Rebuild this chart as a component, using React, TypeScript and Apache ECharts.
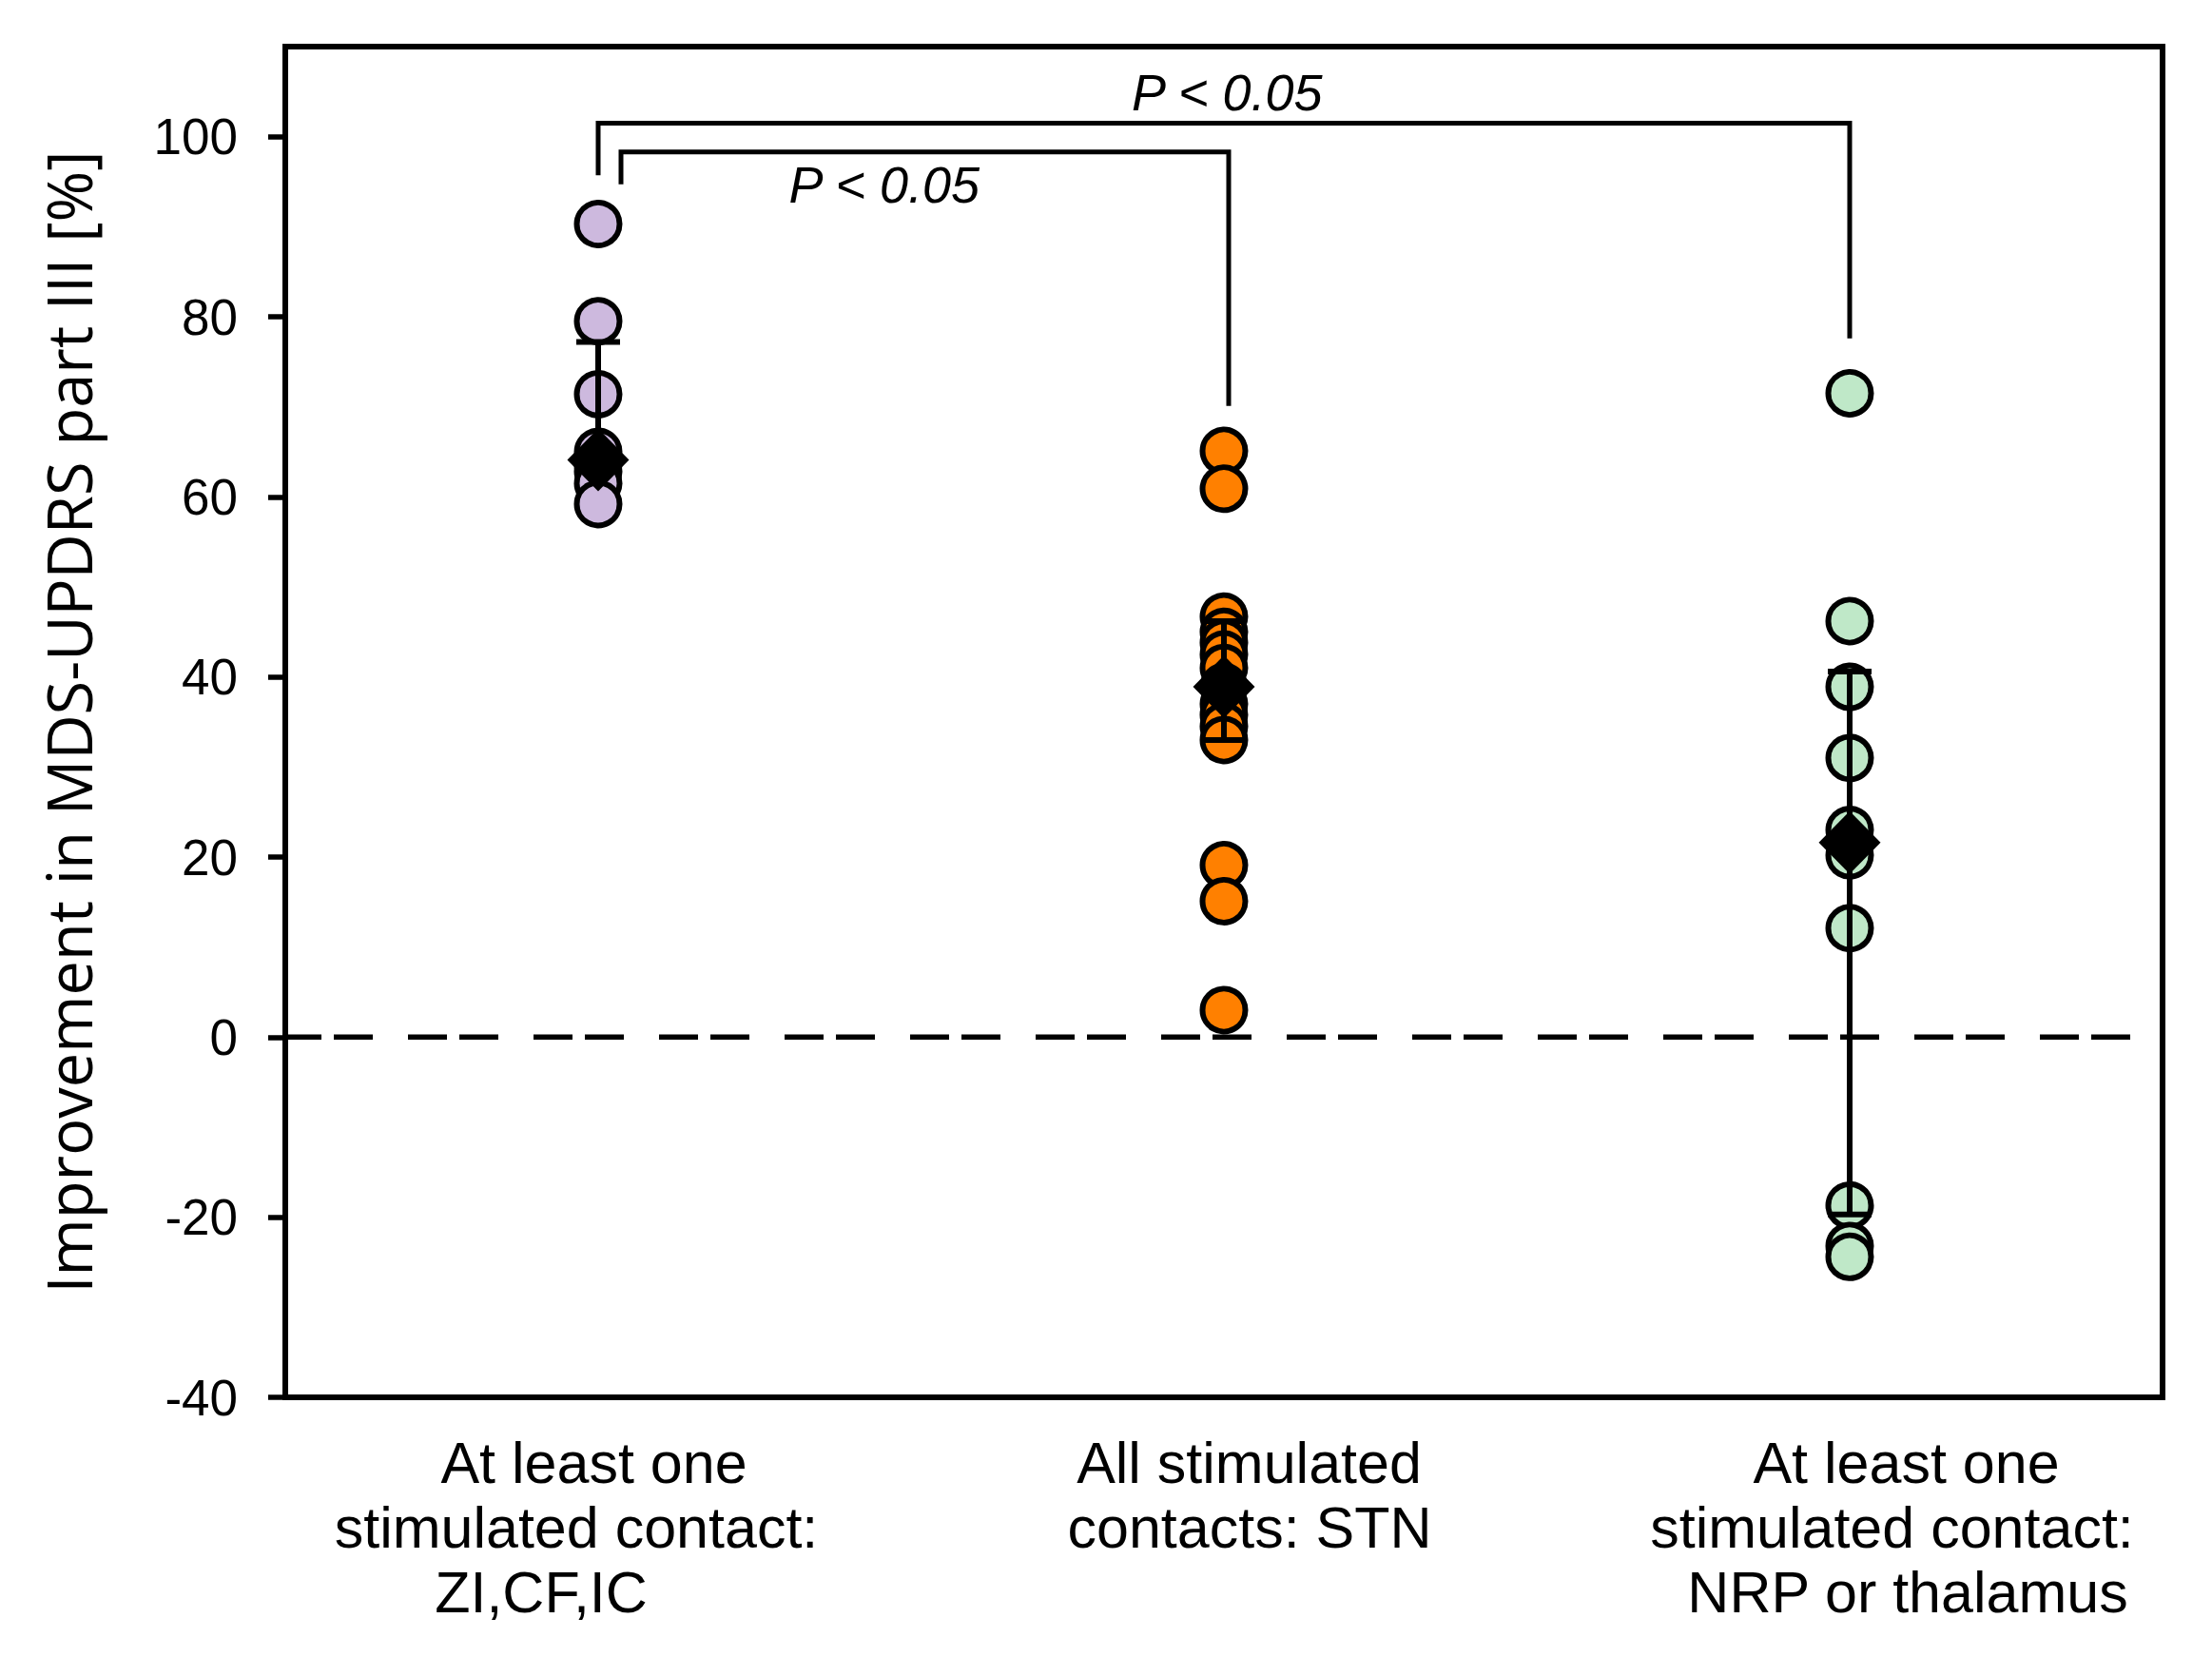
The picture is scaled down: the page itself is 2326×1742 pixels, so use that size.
import React, { useEffect, useRef } from "react";
import * as echarts from "echarts";

// ---------- data ----------
const categories = [
  ["At least one", "stimulated contact:", "ZI,CF,IC"],
  ["All stimulated", "contacts: STN"],
  ["At least one", "stimulated contact:", "NRP or thalamus"],
];
const zicficValues = [90.3, 79.5, 71.4, 65.0, 63.6, 62.8, 61.5, 59.2];
const stnValues = [65.1, 60.9, 46.7, 45.0, 43.8, 42.5, 41.0, 38.9, 37.0, 35.8, 34.5, 33.0, 19.1, 15.1, 3.0];
const nrpValues = [71.5, 46.2, 38.9, 31.0, 23.0, 20.2, 12.1, -18.7, -23.2, -24.4];
const medians = [64.1, 38.9, 21.6];
const lowerQuartile = [63.0, 33.0, -19.7];
const upperQuartile = [77.2, 46.2, 40.6];
const yTicks = [-40, -20, 0, 20, 40, 60, 80, 100];
const referenceLine = [0];

// significance brackets (category index, values)
const bracketFrom = [0, 0];
const bracketTo = [2, 1];
const bracketTop = [101.5, 98.3];
const bracketLeftEnd = [95.7, 94.7];
const bracketRightEnd = [77.6, 70.1];
const pLabels = ["P < 0.05", "P < 0.05"];
const pLabelX = [1.005, 0.457];
const pLabelY = [104.9, 94.7];

// ---------- styles ----------
const FONT = "Arial, 'Liberation Sans', sans-serif";
const TITLE_FONT = "'Open Sans', 'DejaVu Sans', sans-serif";
const colors = ["#cdb9de", "#ff8000", "#bfe8c8"];
const bracketShiftLeft = [0, 24];
const bracketShiftRight = [0, 5];
const labelPadding = [
  [[0, 9, 0, 0], [0, 46, 0, 0], [0, 120, 0, 0]],
  [[0, 0, 0, 53], [0, 0, 0, 54]],
  [[0, 0, 0, 119], [0, 0, 0, 89], [0, 0, 0, 122]],
];

export default function App() {
  const ref = useRef<HTMLDivElement>(null);

  useEffect(() => {
    if (!ref.current) return;
    const chart = echarts.init(ref.current, undefined, { renderer: "svg" });

    const rich: Record<string, any> = {};
    labelPadding.forEach((lines, ci) =>
      lines.forEach((pad, li) => {
        rich[`c${ci}l${li}`] = {
          fontFamily: FONT,
          fontSize: 61,
          lineHeight: 68,
          color: "#000",
          padding: pad,
        };
      })
    );

    const groups = [zicficValues, stnValues, nrpValues];

    const scatterSeries = groups.map((vals, gi) => ({
      type: "scatter",
      z: 2,
      symbol: "circle",
      symbolSize: 45,
      itemStyle: { color: colors[gi], borderColor: "#000", borderWidth: 6, opacity: 1 },
      emphasis: { disabled: true },
      data: vals.map((v) => [gi, v]),
    }));

    const option: any = {
      animation: false,
      backgroundColor: "#ffffff",
      grid: {
        left: 300,
        right: 52,
        top: 49,
        bottom: 273,
        show: true,
        borderColor: "#000",
        borderWidth: 6,
        containLabel: false,
        outerBoundsMode: "none",
      },
      xAxis: {
        type: "category",
        data: categories.map((c) => c.join("\n")),
        boundaryGap: true,
        axisLine: { onZero: false, lineStyle: { color: "#000", width: 6 } },
        axisTick: { alignWithLabel: true, length: 19, lineStyle: { color: "#000", width: 5.5 } },
        axisLabel: {
          interval: 0,
          margin: 35,
          formatter: (_v: string, idx: number) =>
            categories[idx].map((line, li) => `{c${idx}l${li}|${line}}`).join("\n"),
          rich,
        },
        splitLine: { show: false },
      },
      yAxis: {
        type: "value",
        min: -40,
        max: 110,
        interval: 20,
        name: "Improvement in MDS-UPDRS part III [%]",
        nameLocation: "middle",
        nameGap: 196,
        nameMoveOverlap: false,
        nameTextStyle: { fontFamily: TITLE_FONT, fontSize: 65, color: "#000" },
        axisLine: { show: true, onZero: false, lineStyle: { color: "#000", width: 6 } },
        axisTick: { show: true, length: 18, customValues: yTicks, lineStyle: { color: "#000", width: 5.5 } },
        axisLabel: {
          customValues: yTicks,
          margin: 50,
          fontFamily: FONT,
          fontSize: 53,
          color: "#000",
        },
        splitLine: { show: false },
      },
      series: [
        {
          type: "custom",
          name: "zero",
          z: 1,
          silent: true,
          data: referenceLine.map((v) => [0, v]),
          renderItem: (params: any, api: any) => {
            const cs = params.coordSys;
            const p = api.coord([0, api.value(1)]);
            return {
              type: "line",
              shape: { x1: cs.x, y1: p[1], x2: cs.x + cs.width, y2: p[1] },
              style: { stroke: "#000", lineWidth: 5.5, lineDash: [41, 13, 41, 37], lineDashOffset: 3 },
            };
          },
        },
        ...scatterSeries,
        {
          type: "custom",
          name: "iqr",
          z: 3,
          silent: true,
          data: categories.map((_, i) => [i, lowerQuartile[i], upperQuartile[i]]),
          encode: { x: 0, y: [1, 2] },
          renderItem: (_p: any, api: any) => {
            const x = api.value(0);
            const lo = api.coord([x, api.value(1)]);
            const hi = api.coord([x, api.value(2)]);
            const hw = 23;
            const st = { stroke: "#000", lineWidth: 6 };
            return {
              type: "group",
              children: [
                { type: "line", shape: { x1: lo[0], y1: lo[1], x2: hi[0], y2: hi[1] }, style: st },
                { type: "line", shape: { x1: lo[0] - hw, y1: lo[1], x2: lo[0] + hw, y2: lo[1] }, style: st },
                { type: "line", shape: { x1: hi[0] - hw, y1: hi[1], x2: hi[0] + hw, y2: hi[1] }, style: st },
              ],
            };
          },
        },
        {
          type: "scatter",
          name: "median",
          z: 4,
          symbol: "diamond",
          symbolSize: [65, 66],
          itemStyle: { color: "#000", opacity: 1 },
          emphasis: { disabled: true },
          data: medians.map((m, i) => [i, m]),
        },
        {
          type: "custom",
          name: "brackets",
          z: 3,
          silent: true,
          data: bracketFrom.map((f, i) => [f, bracketLeftEnd[i], bracketTo[i], bracketTop[i], bracketRightEnd[i]]),
          encode: { x: [0, 2], y: [1, 3, 4] },
          renderItem: (params: any, api: any) => {
            const i = params.dataIndex;
            const f = api.value(0);
            const t = api.value(2);
            const sl = bracketShiftLeft[i];
            const sr = bracketShiftRight[i];
            const a = api.coord([f, api.value(1)]);
            const b = api.coord([f, api.value(3)]);
            const c = api.coord([t, api.value(3)]);
            const d = api.coord([t, api.value(4)]);
            return {
              type: "polyline",
              shape: {
                points: [
                  [a[0] + sl, a[1]],
                  [b[0] + sl, b[1]],
                  [c[0] + sr, c[1]],
                  [d[0] + sr, d[1]],
                ],
              },
              style: { stroke: "#000", lineWidth: 5, fill: "none" },
            };
          },
        },
        {
          type: "custom",
          name: "pvalues",
          z: 5,
          silent: true,
          data: pLabelY.map((y, i) => [Math.round(pLabelX[i]), y]),
          renderItem: (params: any, api: any) => {
            const i = params.dataIndex;
            const y = api.value(1);
            const p0 = api.coord([0, y]);
            const p1 = api.coord([1, y]);
            const px = p0[0] + (p1[0] - p0[0]) * pLabelX[i];
            return {
              type: "text",
              x: px,
              y: p0[1],
              style: {
                text: pLabels[i],
                fontFamily: FONT,
                fontSize: 54,
                fontStyle: "italic",
                fill: "#000",
                align: "center",
                verticalAlign: "middle",
              },
            };
          },
        },
      ],
    };

    chart.setOption(option);
    return () => chart.dispose();
  }, []);

  return (
    <div
      ref={ref}
      style={{ position: "fixed", left: 0, top: 0, width: 2326, height: 1742, background: "#fff" }}
    />
  );
}
